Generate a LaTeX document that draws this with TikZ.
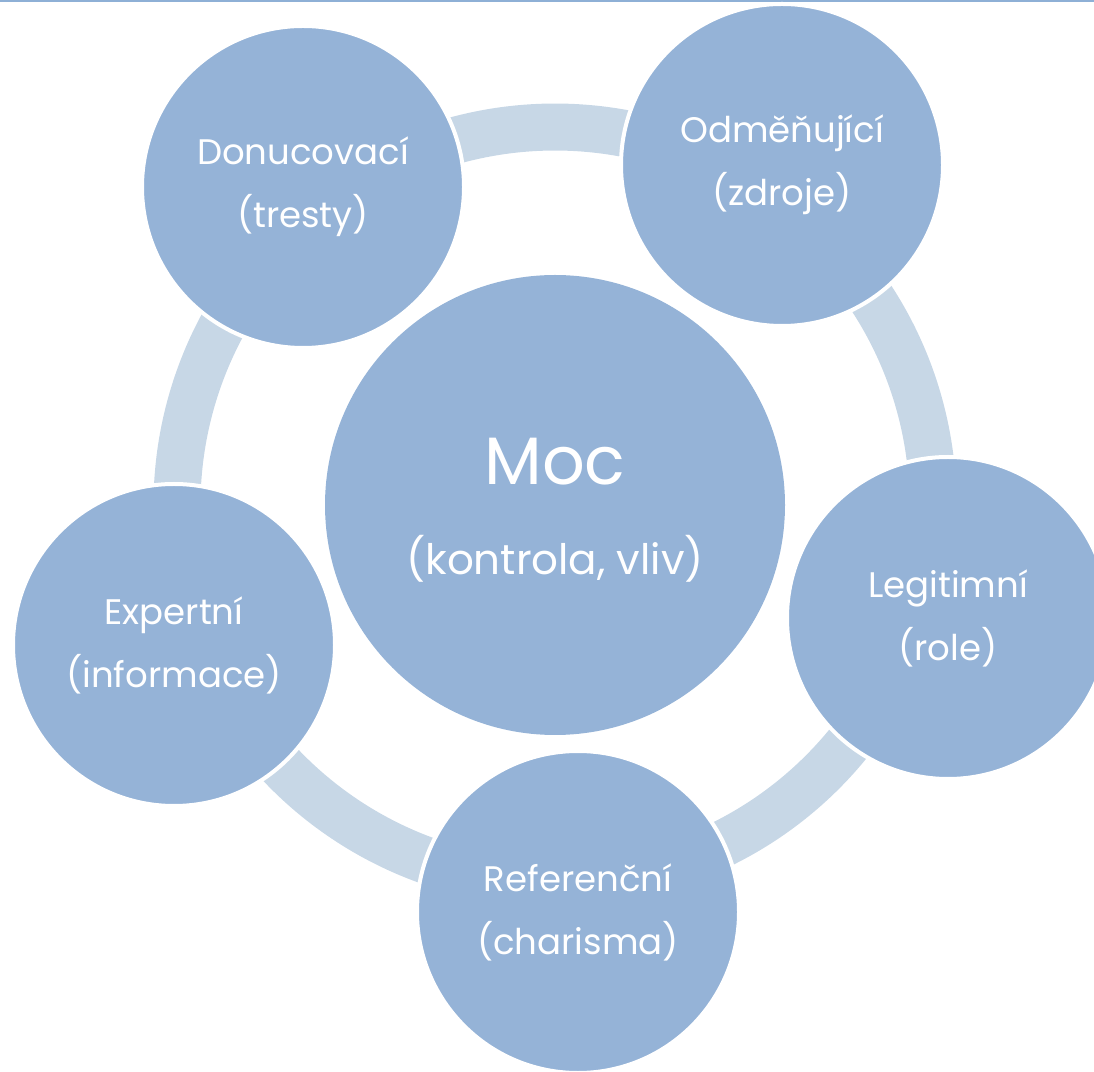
\documentclass[tikz,border=0pt]{standalone}
\usepackage{fontspec}
\setmainfont{Poppins}
\usetikzlibrary{calc,backgrounds}
\definecolor{circblue}{HTML}{95B3D7}
\definecolor{ringblue}{HTML}{C7D7E6}
\definecolor{topline}{HTML}{8EB0D6}
\begin{document}
\begin{tikzpicture}[x=1pt,y=1pt,
  sat/.style={circle, fill=circblue, draw=white, line width=4pt, minimum size=322pt,
    inner sep=0pt, text=white, align=center, font=\fontsize{35.5}{63}\selectfont},
  hub/.style={circle, fill=circblue, draw=none, minimum size=460pt, inner sep=0pt},
  hubbig/.style={text=white, inner sep=0pt, font=\fontsize{67}{67}\selectfont},
  hubsmall/.style={text=white, inner sep=0pt, font=\fontsize{42}{48}\selectfont},
  ringarc/.style={draw=ringblue, line width=47pt}]
\useasboundingbox (0,0) rectangle (1094,1071);
\clip (0,0) rectangle (1094,1071);
\draw[topline, line width=2pt] (0,1070) -- (1094,1070);
\node[hub] (moc) at (555,566) {};
\node[hubbig, anchor=base] (moct) at (555,586) {Moc};
\node[hubsmall, anchor=base] (mocs) at (555,496) {(kontrola, vliv)};
\node[sat] (don) at (303,884) {Donucovací\\(tresty)};
\node[sat] (odm) at (782,906) {Odměňující\\(zdroje)};
\node[sat] (leg) at (948,453) {Legitimní\\(role)};
\node[sat] (ref) at (578,159) {Referenční\\(charisma)};
\node[sat] (exp) at (174,426) {Expertní\\(informace)};
\begin{scope}[on background layer]
\foreach \a/\b in {don/odm, odm/leg, leg/ref, ref/exp, exp/don}{
  \draw[ringarc] let \p1=($(\a)-(moc)$), \p2=($(\b)-(moc)$),
    \n1={atan2(\y1,\x1)}, \n2={atan2(\y2,\x2)}, \n3={-mod(\n1-\n2+720,360)} in
    ($(moc)+(\n1:378)$) arc[start angle=\n1, delta angle=\n3, radius=378];
}
\end{scope}
\end{tikzpicture}
\end{document}
